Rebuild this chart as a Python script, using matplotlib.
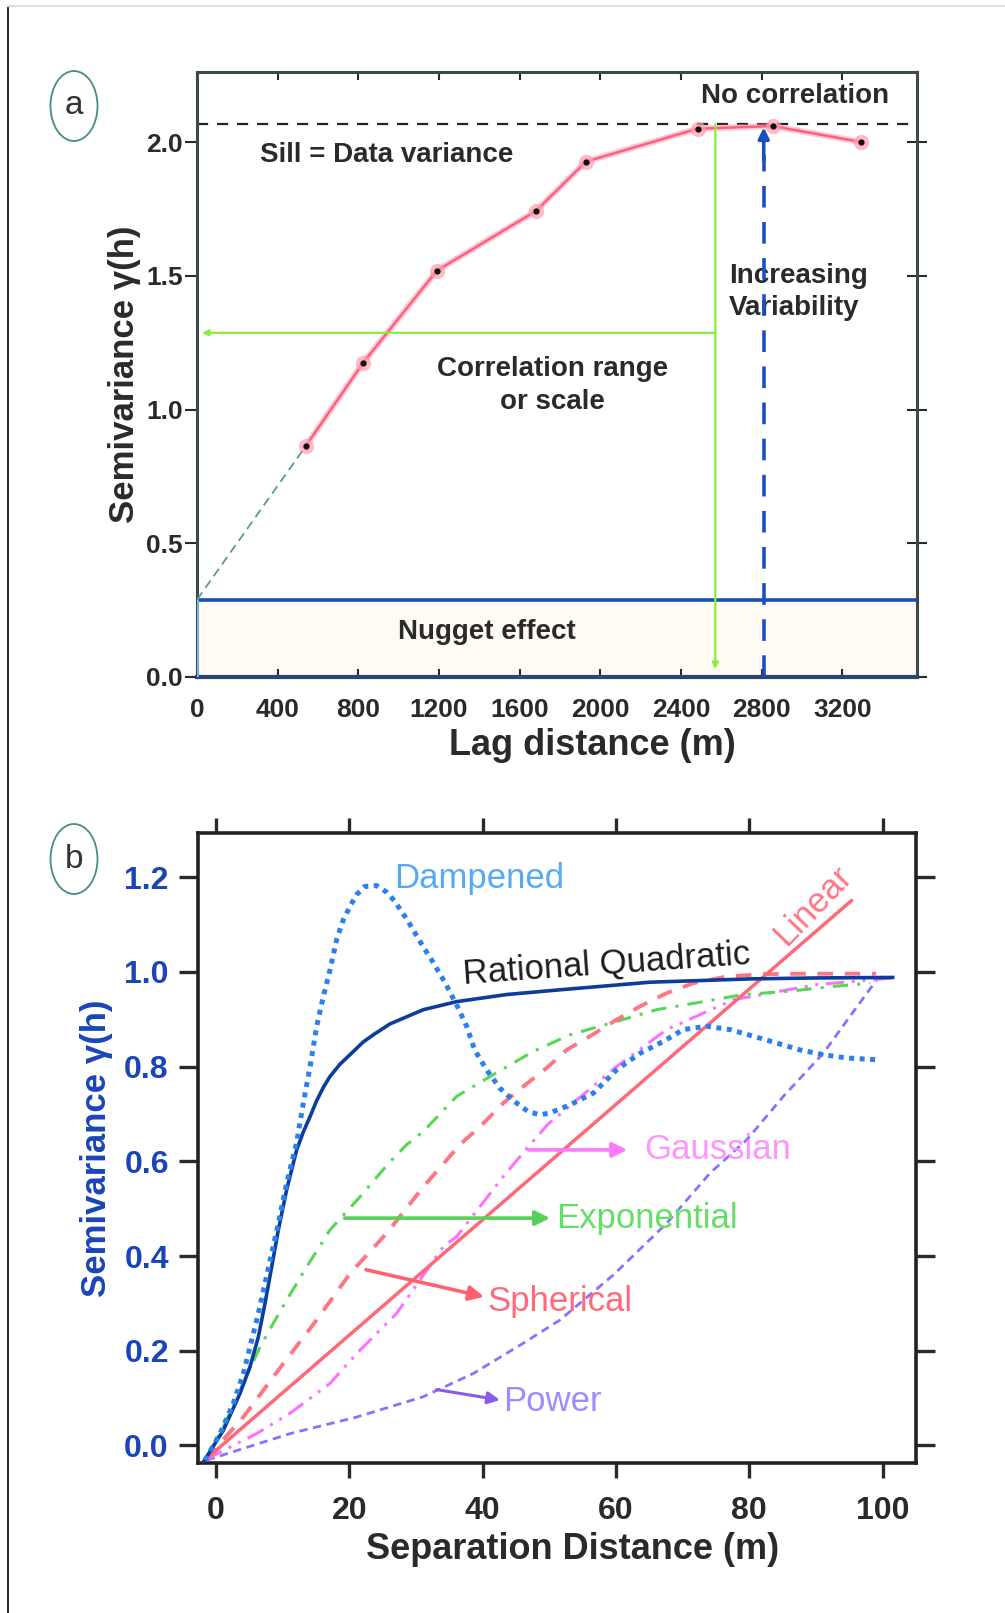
import matplotlib
matplotlib.use("Agg")
import matplotlib.pyplot as plt
from matplotlib.patches import Ellipse
from matplotlib.lines import Line2D

plt.rcParams['font.family'] = ['Liberation Sans', 'DejaVu Sans']

# ---------------- Panel (a) data ----------------
lag_x = [538, 822, 1189, 1680, 1929, 2482, 2854, 3294]
lag_y = [0.862, 1.173, 1.519, 1.742, 1.927, 2.05, 2.06, 2.0]
sill = 2.067
nugget = 0.289
corr_range = 2570
corr_level = 1.287
var_x = 2810
a_xticks = [0, 400, 800, 1200, 1600, 2000, 2400, 2800, 3200]
a_yticks = [0.0, 0.5, 1.0, 1.5, 2.0]

# ---------------- Panel (b) data ----------------
rq_x = [-1.9, 1.1, 3.6, 5.1, 6.35, 7.35, 8.35, 9.35, 10.6, 12.1, 13.1, 14.1, 15.1, 16.1,
        17.1, 18.6, 20.1, 22.1, 23.6, 26.1, 31.1, 36.1, 43.6, 51.6, 65.1, 80.1, 90.1, 101.5]
rq_y = [-0.035, 0.032, 0.110, 0.166, 0.229, 0.300, 0.377, 0.455, 0.540, 0.624, 0.662,
        0.694, 0.728, 0.756, 0.779, 0.805, 0.825, 0.852, 0.867, 0.890, 0.920, 0.937,
        0.952, 0.962, 0.978, 0.985, 0.987, 0.988]

damp_x = [-1.65, 0.6, 2.6, 4.1, 5.35, 6.35, 7.35, 8.35, 9.35, 10.6, 12.1, 13.1, 14.2, 15.1,
          16.1, 17.1, 18.1, 19.1, 20.1, 21.1, 22.3, 24.1, 25.6, 26.8, 28.8, 30.6, 32.6,
          34.4, 36.1, 37.6, 38.8, 40.6, 42.6, 44.8, 46.8, 48.6, 50.1, 53.1, 56.6, 60.1,
          63.6, 67.1, 70.1, 73.6, 77.1, 80.6, 84.0, 87.6, 91.1, 94.6, 99.6]
damp_y = [-0.031, 0.025, 0.089, 0.152, 0.222, 0.279, 0.342, 0.406, 0.469, 0.554, 0.640,
          0.723, 0.807, 0.885, 0.948, 1.004, 1.068, 1.110, 1.138, 1.163, 1.180, 1.182,
          1.168, 1.149, 1.107, 1.064, 1.019, 0.976, 0.930, 0.885, 0.835, 0.793, 0.754,
          0.726, 0.705, 0.698, 0.702, 0.719, 0.744, 0.793, 0.828, 0.853, 0.878, 0.885,
          0.878, 0.864, 0.850, 0.835, 0.825, 0.818, 0.814]

sph_x = [-1.6, 4.1, 10.1, 15.1, 20.1, 25.6, 31.1, 36.6, 40.1, 43.1, 46.1, 49.6, 52.6,
         56.1, 60.1, 63.6, 67.6, 71.6, 76.6, 82.0, 88.6, 92.5, 99.0]
sph_y = [-0.03, 0.060, 0.173, 0.265, 0.363, 0.448, 0.546, 0.635, 0.680, 0.723, 0.758,
         0.797, 0.835, 0.864, 0.899, 0.927, 0.955, 0.976, 0.990, 0.995, 0.996, 0.996, 0.996]

exp_x = [-1.6, 1.1, 6.6, 8.6, 10.6, 13.6, 17.1, 21.6, 26.1, 28.6, 31.1, 36.1, 41.6, 47.6,
         53.1, 56.6, 66.1, 73.1, 79.1, 86.0, 92.5, 98.1]
exp_y = [-0.03, 0.039, 0.208, 0.258, 0.307, 0.377, 0.455, 0.525, 0.599, 0.635, 0.663, 0.737,
         0.783, 0.832, 0.867, 0.881, 0.920, 0.937, 0.952, 0.959, 0.969, 0.976]

gau_x = [-1.6, 6.1, 11.1, 17.1, 21.1, 27.1, 34.1, 36.1, 43.1, 45.6, 49.7, 60.1, 67.6,
         77.6, 90.1, 101.6]
gau_y = [-0.03, 0.025, 0.068, 0.131, 0.194, 0.279, 0.420, 0.441, 0.568, 0.610, 0.677,
         0.800, 0.878, 0.941, 0.973, 0.987]

pow_x = [-1.4, 11.1, 21.1, 31.1, 38.6, 46.1, 51.6, 59.6, 67.6, 74.1, 79.6, 85.1, 91.1,
         95.1, 99.1]
pow_y = [-0.031, 0.025, 0.060, 0.103, 0.152, 0.216, 0.265, 0.360, 0.469, 0.575, 0.645,
         0.737, 0.828, 0.906, 0.983]

lin_x = [-1.6, 95.3]
lin_y = [-0.03, 1.15]

b_xticks = [0, 20, 40, 60, 80, 100]
b_yticks = [0.0, 0.2, 0.4, 0.6, 0.8, 1.0, 1.2]

W, H = 1005, 1613
fig = plt.figure(figsize=(W / 100, H / 100), dpi=100)

def fx(px):
    return px / W

def fy(py):
    return 1 - py / H

# frame lines of the original image
fig.add_artist(Line2D([fx(8), fx(8)], [fy(7), 0], color='black', lw=1.2))
fig.add_artist(Line2D([fx(8), 1], [fy(6), fy(6)], color='#dddddd', lw=1.5))

# ================= Panel (a) =================
axa = fig.add_axes([fx(197), fy(677), fx(917) - fx(197), fy(72) - fy(677)])
axa.set_xlim(0, 3570)
axa.set_ylim(0, 2.262)

axa.axhspan(0, nugget, color='#fffbf2', zorder=0)
axa.axhline(nugget, color='#1a50b0', lw=2.6, zorder=3)
axa.axvline(0, ymax=nugget / 2.262, color='#7ab8ea', lw=2, zorder=3)
axa.axhline(sill, color='#222222', lw=1.6, ls=(0, (5, 4)), zorder=2)

# nugget-to-first-point extrapolation
axa.plot([0, lag_x[0]], [nugget, lag_y[0]], color='#5a9a8e', lw=1.3, ls=(0, (5, 3)), zorder=3)

# empirical semivariogram
axa.plot(lag_x, lag_y, color='#ff8aa0', lw=4.5, alpha=0.45, zorder=4)
axa.plot(lag_x, lag_y, color='#ff5f7e', lw=1.8, zorder=4)
axa.plot(lag_x, lag_y, 'o', ms=11, color='#ff9db0', alpha=0.7, zorder=5, mec='none')
axa.plot(lag_x, lag_y, 'o', ms=4.5, color='#111111', zorder=6, mec='none')

# correlation range lines
green = '#86ee3c'
axa.annotate('', xy=(25, corr_level), xytext=(corr_range, corr_level),
             arrowprops=dict(arrowstyle='-|>', color=green, lw=1.6, mutation_scale=9,
                             shrinkA=0, shrinkB=0), zorder=5)
axa.annotate('', xy=(corr_range, 0.03), xytext=(corr_range, sill),
             arrowprops=dict(arrowstyle='-|>', color=green, lw=1.6, mutation_scale=9,
                             shrinkA=0, shrinkB=0), zorder=5)

# increasing variability arrow
blue = '#1a4fc0'
axa.plot([var_x, var_x], [0, 1.95], color=blue, lw=2.6, ls=(0, (6, 4)), zorder=6)
axa.annotate('', xy=(var_x, 2.055), xytext=(var_x, 1.93),
             arrowprops=dict(arrowstyle='-|>', color=blue, lw=2.6, mutation_scale=16,
                             shrinkA=0, shrinkB=0), zorder=7)

txt_a = dict(fontsize=20, fontweight='bold', color='#2a2a2a')
axa.text(2963, 2.173, 'No correlation', ha='center', va='center', **txt_a)
axa.text(313, 1.951, 'Sill = Data variance', ha='left', va='center', **txt_a)
axa.text(2636, 1.44, 'Increasing\nVariability', ha='left', va='center', linespacing=1.3, **txt_a)
axa.text(1763, 1.09, 'Correlation range\nor scale', ha='center', va='center', linespacing=1.35, **txt_a)
axa.text(1437, 0.17, 'Nugget effect', ha='center', va='center', **txt_a)

axa.set_xticks(a_xticks)
axa.set_xticklabels([str(v) for v in a_xticks])
axa.set_yticks(a_yticks)
axa.set_yticklabels([f'{v:.1f}' for v in a_yticks])
axa.tick_params(axis='x', direction='in', length=6, width=1.5, pad=15, top=True,
                labelsize=19, colors='#2a2a2a')
axa.tick_params(axis='y', direction='out', length=9, width=1.5, pad=1, right=False,
                labelsize=19, colors='#2a2a2a')
for lab in axa.get_xticklabels() + axa.get_yticklabels():
    lab.set_fontweight('bold')
axa.tick_params(axis='x', which='both', top=True, bottom=True)
# right ticks
axr = axa.secondary_yaxis('right')
axr.set_yticks(a_yticks)
axr.tick_params(direction='inout', length=14, width=1.5, labelright=False, colors='#2a2a2a')
axr.spines['right'].set_visible(False)

for s in axa.spines.values():
    s.set_color('#3c4a4a')
    s.set_linewidth(2.2)
axa.spines['bottom'].set_color('#2c4470')
axa.spines['bottom'].set_linewidth(3)

axa.set_ylabel('Semivariance γ(h)', fontsize=25, fontweight='bold', color='#2a2a2a', labelpad=4)
axa.set_xlabel('Lag distance (m)', fontsize=26, fontweight='bold', color='#2a2a2a', labelpad=6)
axa.xaxis.set_label_coords(0.549, -0.085)

# ================= Panel (b) =================
axb = fig.add_axes([fx(198), fy(1463), fx(916) - fx(198), fy(833) - fy(1463)])
axb.set_xlim(-2.7, 105)
axb.set_ylim(-0.037, 1.293)

axb.plot(pow_x, pow_y, color='#8a70ff', lw=2.0, ls=(0, (3, 2)), zorder=3)
axb.plot(gau_x, gau_y, color='#ff70ff', lw=2.2, ls=(0, (6, 2.5, 1, 2.5, 1, 2.5)), zorder=3)
axb.plot(exp_x, exp_y, color='#55d855', lw=2.2, ls=(0, (5, 3, 1, 3)), zorder=3)
axb.plot(sph_x, sph_y, color='#ff7585', lw=2.8, ls=(0, (4, 3)), zorder=3)
axb.plot(lin_x, lin_y, color='#ff6878', lw=2.5, zorder=3)
axb.plot(rq_x, rq_y, color='#0c3c9c', lw=2.6, zorder=4)
axb.plot(damp_x, damp_y, color='#2a80ee', lw=3.6, ls=(0, (1, 1.1)), zorder=5)

def arrow(ax, tail, tip, color, lw=2.6, ms=22):
    ax.annotate('', xy=tip, xytext=tail,
                arrowprops=dict(arrowstyle='-|>', color=color, lw=lw, mutation_scale=ms,
                                shrinkA=0, shrinkB=0), zorder=6)

arrow(axb, (46.9, 0.624), (61.7, 0.624), '#ff78ff')
arrow(axb, (19.3, 0.480), (50.1, 0.480), '#5ad05a')
arrow(axb, (22.5, 0.371), (40.2, 0.314), '#ff6070')
arrow(axb, (33.1, 0.118), (42.6, 0.096), '#8a5ae8', lw=2.2, ms=18)

lab_b = dict(fontsize=25, va='center', ha='left')
axb.text(26.7, 1.196, 'Dampened', color='#55aaf2', **lab_b)
axb.text(64.2, 0.624, 'Gaussian', color='#ff94ff', **lab_b)
axb.text(51.0, 0.480, 'Exponential', color='#66dd66', **lab_b)
axb.text(40.7, 0.305, 'Spherical', color='#ff6a7a', **lab_b)
axb.text(43.1, 0.092, 'Power', color='#a08aff', **lab_b)
axb.text(58.6, 1.017, 'Rational Quadratic', color='#1e1e1e', fontsize=25, ha='center',
         va='center', rotation=4, rotation_mode='anchor')
axb.text(89.5, 1.14, 'Linear', color='#ff7585', fontsize=25, ha='center', va='center',
         rotation=46, rotation_mode='anchor')

axb.set_xticks(b_xticks)
axb.set_xticklabels([str(v) for v in b_xticks])
axb.set_yticks(b_yticks)
axb.set_yticklabels([f'{v:.1f}' for v in b_yticks])
axb.tick_params(axis='x', direction='out', length=11, width=2.4, pad=13, top=True,
                labelsize=23, colors='#2a2a2a')
axb.tick_params(axis='y', direction='out', length=14, width=2.4, pad=7, right=True,
                labelsize=23, colors='#2a2a2a', labelcolor='#1a45b8')
for lab in axb.get_xticklabels() + axb.get_yticklabels():
    lab.set_fontweight('bold')
for s in axb.spines.values():
    s.set_color('#222222')
    s.set_linewidth(2.6)

axb.set_ylabel('Semivariance γ(h)', fontsize=25, fontweight='bold', color='#1a45b8', labelpad=8)
axb.set_xlabel('Separation Distance (m)', fontsize=26, fontweight='bold', color='#2a2a2a', labelpad=6)
axb.xaxis.set_label_coords(0.521, -0.11)

# ================= panel letters =================
for cx, cy, letter in [(74, 106, 'a'), (74, 859, 'b')]:
    fig.add_artist(Ellipse((fx(cx), fy(cy)), width=47 / W, height=70 / H,
                           transform=fig.transFigure, fill=False, ec='#4a8a88', lw=1.3))
    fig.text(fx(cx), fy(cy), letter, ha='center', va='center', fontsize=24, color='#333333')

fig.savefig('out.png', dpi=100)
